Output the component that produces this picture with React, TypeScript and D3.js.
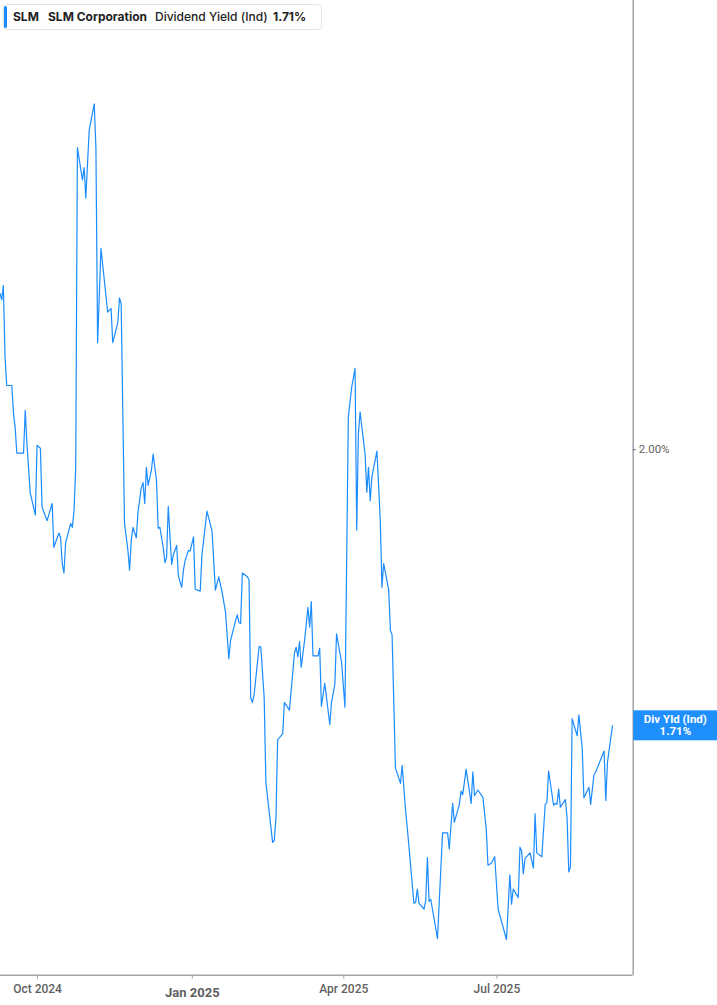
import { useEffect, useRef } from 'react';
import * as d3 from 'd3';

// daily dividend yield (indicated), %
const dates = [
  // Sep 2024
  '2024-09-09', '2024-09-10', '2024-09-11', '2024-09-12', '2024-09-13', '2024-09-16', '2024-09-17',
  '2024-09-18', '2024-09-19', '2024-09-23', '2024-09-24', '2024-09-25', '2024-09-27', '2024-09-30',
  // Oct 2024
  '2024-10-01', '2024-10-03', '2024-10-04', '2024-10-07', '2024-10-10', '2024-10-11', '2024-10-14',
  '2024-10-15', '2024-10-16', '2024-10-17', '2024-10-18', '2024-10-21', '2024-10-22', '2024-10-23',
  '2024-10-24', '2024-10-25', '2024-10-28', '2024-10-29', '2024-10-30',
  // Nov 2024
  '2024-11-01', '2024-11-04', '2024-11-05', '2024-11-06', '2024-11-08', '2024-11-12', '2024-11-14',
  '2024-11-15', '2024-11-18', '2024-11-19', '2024-11-20', '2024-11-22', '2024-11-24', '2024-11-25',
  '2024-11-26', '2024-11-27', '2024-11-29', '2024-11-30',
  // Dec 2024
  '2024-12-02', '2024-12-03', '2024-12-04', '2024-12-05', '2024-12-06', '2024-12-08', '2024-12-09',
  '2024-12-11', '2024-12-12', '2024-12-13', '2024-12-15', '2024-12-16', '2024-12-17', '2024-12-18',
  '2024-12-20', '2024-12-21', '2024-12-23', '2024-12-24', '2024-12-26', '2024-12-27', '2024-12-28',
  '2024-12-30', '2024-12-31',
  // Jan 2025
  '2025-01-02', '2025-01-03', '2025-01-06', '2025-01-07', '2025-01-10', '2025-01-13', '2025-01-15',
  '2025-01-17', '2025-01-19', '2025-01-21', '2025-01-23', '2025-01-24', '2025-01-27', '2025-01-28',
  '2025-01-29', '2025-01-30', '2025-01-31',
  // Feb 2025
  '2025-02-03', '2025-02-04', '2025-02-05', '2025-02-06', '2025-02-07', '2025-02-10', '2025-02-11',
  '2025-02-13', '2025-02-14', '2025-02-18', '2025-02-19', '2025-02-20', '2025-02-21', '2025-02-24',
  '2025-02-25', '2025-02-28',
  // Mar 2025
  '2025-03-03', '2025-03-04', '2025-03-05', '2025-03-06', '2025-03-07', '2025-03-09', '2025-03-11',
  '2025-03-12', '2025-03-13', '2025-03-14', '2025-03-17', '2025-03-18', '2025-03-19', '2025-03-21',
  '2025-03-24', '2025-03-25', '2025-03-27', '2025-03-28', '2025-03-31',
  // Apr 2025
  '2025-04-02', '2025-04-04', '2025-04-06', '2025-04-08', '2025-04-09', '2025-04-10', '2025-04-11',
  '2025-04-14', '2025-04-15', '2025-04-16', '2025-04-17', '2025-04-18', '2025-04-21', '2025-04-23',
  '2025-04-24', '2025-04-25', '2025-04-28', '2025-04-29', '2025-04-30',
  // May 2025
  '2025-05-01', '2025-05-02', '2025-05-05', '2025-05-06', '2025-05-08', '2025-05-09', '2025-05-13',
  '2025-05-14', '2025-05-15', '2025-05-16', '2025-05-19', '2025-05-20', '2025-05-21', '2025-05-22',
  '2025-05-23', '2025-05-27', '2025-05-30',
  // Jun 2025
  '2025-06-02', '2025-06-03', '2025-06-05', '2025-06-06', '2025-06-09', '2025-06-10', '2025-06-11',
  '2025-06-13', '2025-06-16', '2025-06-17', '2025-06-18', '2025-06-20', '2025-06-23', '2025-06-25',
  '2025-06-26', '2025-06-28', '2025-06-30',
  // Jul 2025
  '2025-07-02', '2025-07-07', '2025-07-09', '2025-07-10', '2025-07-11', '2025-07-14', '2025-07-15',
  '2025-07-16', '2025-07-17', '2025-07-18', '2025-07-21', '2025-07-23', '2025-07-24', '2025-07-25',
  '2025-07-28', '2025-07-30', '2025-07-31',
  // Aug 2025
  '2025-08-01', '2025-08-04', '2025-08-05', '2025-08-06', '2025-08-07', '2025-08-08', '2025-08-11',
  '2025-08-12', '2025-08-13', '2025-08-14', '2025-08-15', '2025-08-18', '2025-08-19', '2025-08-21',
  '2025-08-22', '2025-08-25', '2025-08-26', '2025-08-28', '2025-08-29',
  // Sep 2025
  '2025-09-03', '2025-09-04', '2025-09-05', '2025-09-08',
];

const divYield = [
  // Sep 2024
  2.164, 2.157, 2.172, 2.097, 2.067, 2.067, 2.038,
  2.023, 1.996, 1.996, 2.041, 2.006, 1.954, 1.931,
  // Oct 2024
  2.004, 2.001, 1.939, 1.925, 1.943, 1.897, 1.912,
  1.907, 1.880, 1.870, 1.902, 1.922, 1.918, 1.936,
  1.981, 2.317, 2.283, 2.296, 2.264,
  // Nov 2024
  2.335, 2.363, 2.317, 2.112, 2.211, 2.144, 2.148,
  2.112, 2.133, 2.159, 2.153, 1.922, 1.894, 1.873,
  1.904, 1.918, 1.907, 1.934,
  // Dec 2024
  1.960, 1.965, 1.943, 1.981, 1.962, 1.978, 1.995,
  1.967, 1.917, 1.918, 1.897, 1.881, 1.886, 1.940,
  1.879, 1.889, 1.899, 1.867, 1.855, 1.873, 1.883,
  1.894, 1.893,
  // Jan 2025
  1.908, 1.853, 1.851, 1.889, 1.935, 1.914, 1.852,
  1.866, 1.850, 1.829, 1.780, 1.799, 1.820, 1.826,
  1.818, 1.817, 1.870,
  // Feb 2025
  1.866, 1.863, 1.739, 1.734, 1.742, 1.793, 1.792,
  1.739, 1.650, 1.587, 1.589, 1.613, 1.695, 1.701,
  1.734, 1.726,
  // Mar 2025
  1.786, 1.792, 1.782, 1.798, 1.771, 1.799, 1.834,
  1.813, 1.840, 1.783, 1.783, 1.791, 1.730, 1.754,
  1.711, 1.734, 1.753, 1.806, 1.776,
  // Apr 2025
  1.729, 2.034, 2.065, 2.085, 1.915, 2.017, 2.039,
  1.994, 1.955, 1.981, 1.946, 1.971, 1.998, 1.925,
  1.855, 1.880, 1.852, 1.810, 1.805,
  // May 2025
  1.736, 1.665, 1.649, 1.668, 1.621, 1.603, 1.523,
  1.524, 1.538, 1.523, 1.517, 1.526, 1.571, 1.525,
  1.527, 1.486, 1.597,
  // Jun 2025
  1.597, 1.580, 1.628, 1.608, 1.627, 1.641, 1.637,
  1.664, 1.628, 1.661, 1.636, 1.642, 1.634, 1.600,
  1.563, 1.565, 1.572,
  // Jul 2025
  1.517, 1.485, 1.553, 1.522, 1.538, 1.529, 1.582,
  1.578, 1.554, 1.570, 1.576, 1.560, 1.617, 1.576,
  1.572, 1.627, 1.629,
  // Aug 2025
  1.662, 1.626, 1.628, 1.627, 1.643, 1.624, 1.632,
  1.613, 1.556, 1.561, 1.717, 1.699, 1.721, 1.686,
  1.634, 1.645, 1.627, 1.658, 1.661,
  // Sep 2025
  1.683, 1.631, 1.671, 1.710,
];

const xTickDates = ['2024-10-01', '2025-01-01', '2025-04-01', '2025-07-01'];
const xTickLabels = ['Oct 2024', 'Jan 2025', 'Apr 2025', 'Jul 2025'];
const yTickValues = [2.0];
const legendTexts = ['SLM', 'SLM Corporation', 'Dividend Yield (Ind)', '1.71%'];
const lastLabelLines = ['Div Yld (Ind)', '1.71%'];

const width = 717;
const height = 1005;
const plotRight = 632.7;
const plotBottom = 974.7;
const lineColor = '#1a8cff';

const App = () => {
  const ref = useRef<SVGSVGElement | null>(null);

  useEffect(() => {
    const svg = d3.select(ref.current);
    svg.selectAll('*').remove();

    const parse = d3.utcParse('%Y-%m-%d');
    const data = dates.map((d, i) => ({ date: parse(d)!, value: divYield[i] }));

    const x = d3.scaleUtc()
      .domain([parse('2024-09-09')!, parse('2025-09-20')!])
      .range([0, plotRight]);

    const y = d3.scaleLinear()
      .domain([1.448, 2.472])
      .range([plotBottom, 0]);

    svg.append('rect').attr('width', width).attr('height', height).attr('fill', '#fff');

    svg.append('clipPath').attr('id', 'plot-clip')
      .append('rect').attr('x', 0).attr('y', 0).attr('width', plotRight).attr('height', plotBottom);

    // x axis
    const xAxis = svg.append('g')
      .attr('transform', `translate(0,${plotBottom})`)
      .call(d3.axisBottom(x)
        .tickValues(xTickDates.map(d => parse(d)!))
        .tickFormat((_, i) => xTickLabels[i])
        .tickSize(4)
        .tickSizeOuter(0));
    xAxis.select('.domain').attr('stroke', '#a3a3a3').attr('stroke-width', 1.5);
    xAxis.selectAll('.tick line').attr('stroke', '#a3a3a3');
    xAxis.selectAll<SVGTextElement, Date>('.tick text')
      .attr('y', 10)
      .attr('font-family', 'Roboto, sans-serif')
      .attr('font-size', (_, i) => (xTickLabels[i].startsWith('Jan') ? 13 : 12))
      .attr('font-weight', (_, i) => (xTickLabels[i].startsWith('Jan') ? 700 : 500))
      .attr('dy', (_, i) => (xTickLabels[i].startsWith('Jan') ? '0.95em' : '0.71em'))
      .attr('fill', '#5f5f5f');
    xAxis.select('.domain').attr('d', `M0,0.5H${plotRight}`);

    // y axis on the right
    const yAxis = svg.append('g')
      .attr('transform', `translate(${plotRight},0)`)
      .call(d3.axisRight(y)
        .tickValues(yTickValues)
        .tickFormat(d => `${d3.format('.2f')(d as number)}%`)
        .tickSize(3)
        .tickSizeOuter(0));
    yAxis.select('.domain').attr('stroke', '#a3a3a3').attr('stroke-width', 1.5)
      .attr('d', `M0.5,0V${plotBottom}`);
    yAxis.selectAll('.tick line').attr('stroke', '#666');
    yAxis.selectAll('.tick text')
      .attr('font-family', 'Roboto, sans-serif')
      .attr('font-size', 11.5)
      .attr('fill', '#5f5f5f');

    // the yield line
    const line = d3.line<{ date: Date; value: number }>()
      .x(d => x(d.date))
      .y(d => y(d.value));

    svg.append('path')
      .datum(data)
      .attr('clip-path', 'url(#plot-clip)')
      .attr('fill', 'none')
      .attr('stroke', lineColor)
      .attr('stroke-width', 1.2)
      .attr('stroke-linejoin', 'round')
      .attr('d', line);

    // last value flag
    const last = data[data.length - 1];
    const ly = y(last.value);
    const flag = svg.append('g').attr('transform', `translate(${plotRight + 0.5},${ly})`);
    flag.append('rect')
      .attr('x', 0).attr('y', -15)
      .attr('width', width - plotRight).attr('height', 30)
      .attr('fill', '#1f8fff');
    flag.selectAll('text')
      .data(lastLabelLines)
      .enter().append('text')
      .attr('x', (width - plotRight) / 2)
      .attr('y', (_, i) => (i === 0 ? -2 : 10))
      .attr('text-anchor', 'middle')
      .attr('font-family', 'Roboto, sans-serif')
      .attr('font-size', 11.5)
      .attr('font-weight', 700)
      .attr('fill', '#fff')
      .text(d => d);

    // legend box
    const legend = svg.append('g');
    legend.append('rect')
      .attr('x', 3.5).attr('y', 4.5)
      .attr('width', 318).attr('height', 25).attr('rx', 3)
      .attr('fill', '#fff').attr('stroke', '#e4e4e4');
    legend.append('rect')
      .attr('x', 4).attr('y', 6)
      .attr('width', 3).attr('height', 22).attr('rx', 1.5)
      .attr('fill', lineColor);
    const legendX = [13, 48, 155, 273];
    legend.selectAll('text.lg')
      .data(legendTexts)
      .enter().append('text')
      .attr('class', 'lg')
      .attr('x', (_, i) => legendX[i])
      .attr('y', 21)
      .attr('font-family', 'Inter, sans-serif')
      .attr('font-size', 12)
      .attr('font-weight', (_, i) => (i === 2 ? 500 : 700))
      .attr('fill', '#222')
      .text(d => d);
  }, []);

  return (
    <svg
      ref={ref}
      width={width}
      height={height}
      style={{ position: 'absolute', left: 0, top: 0 }}
    ></svg>
  );
};

export default App;
